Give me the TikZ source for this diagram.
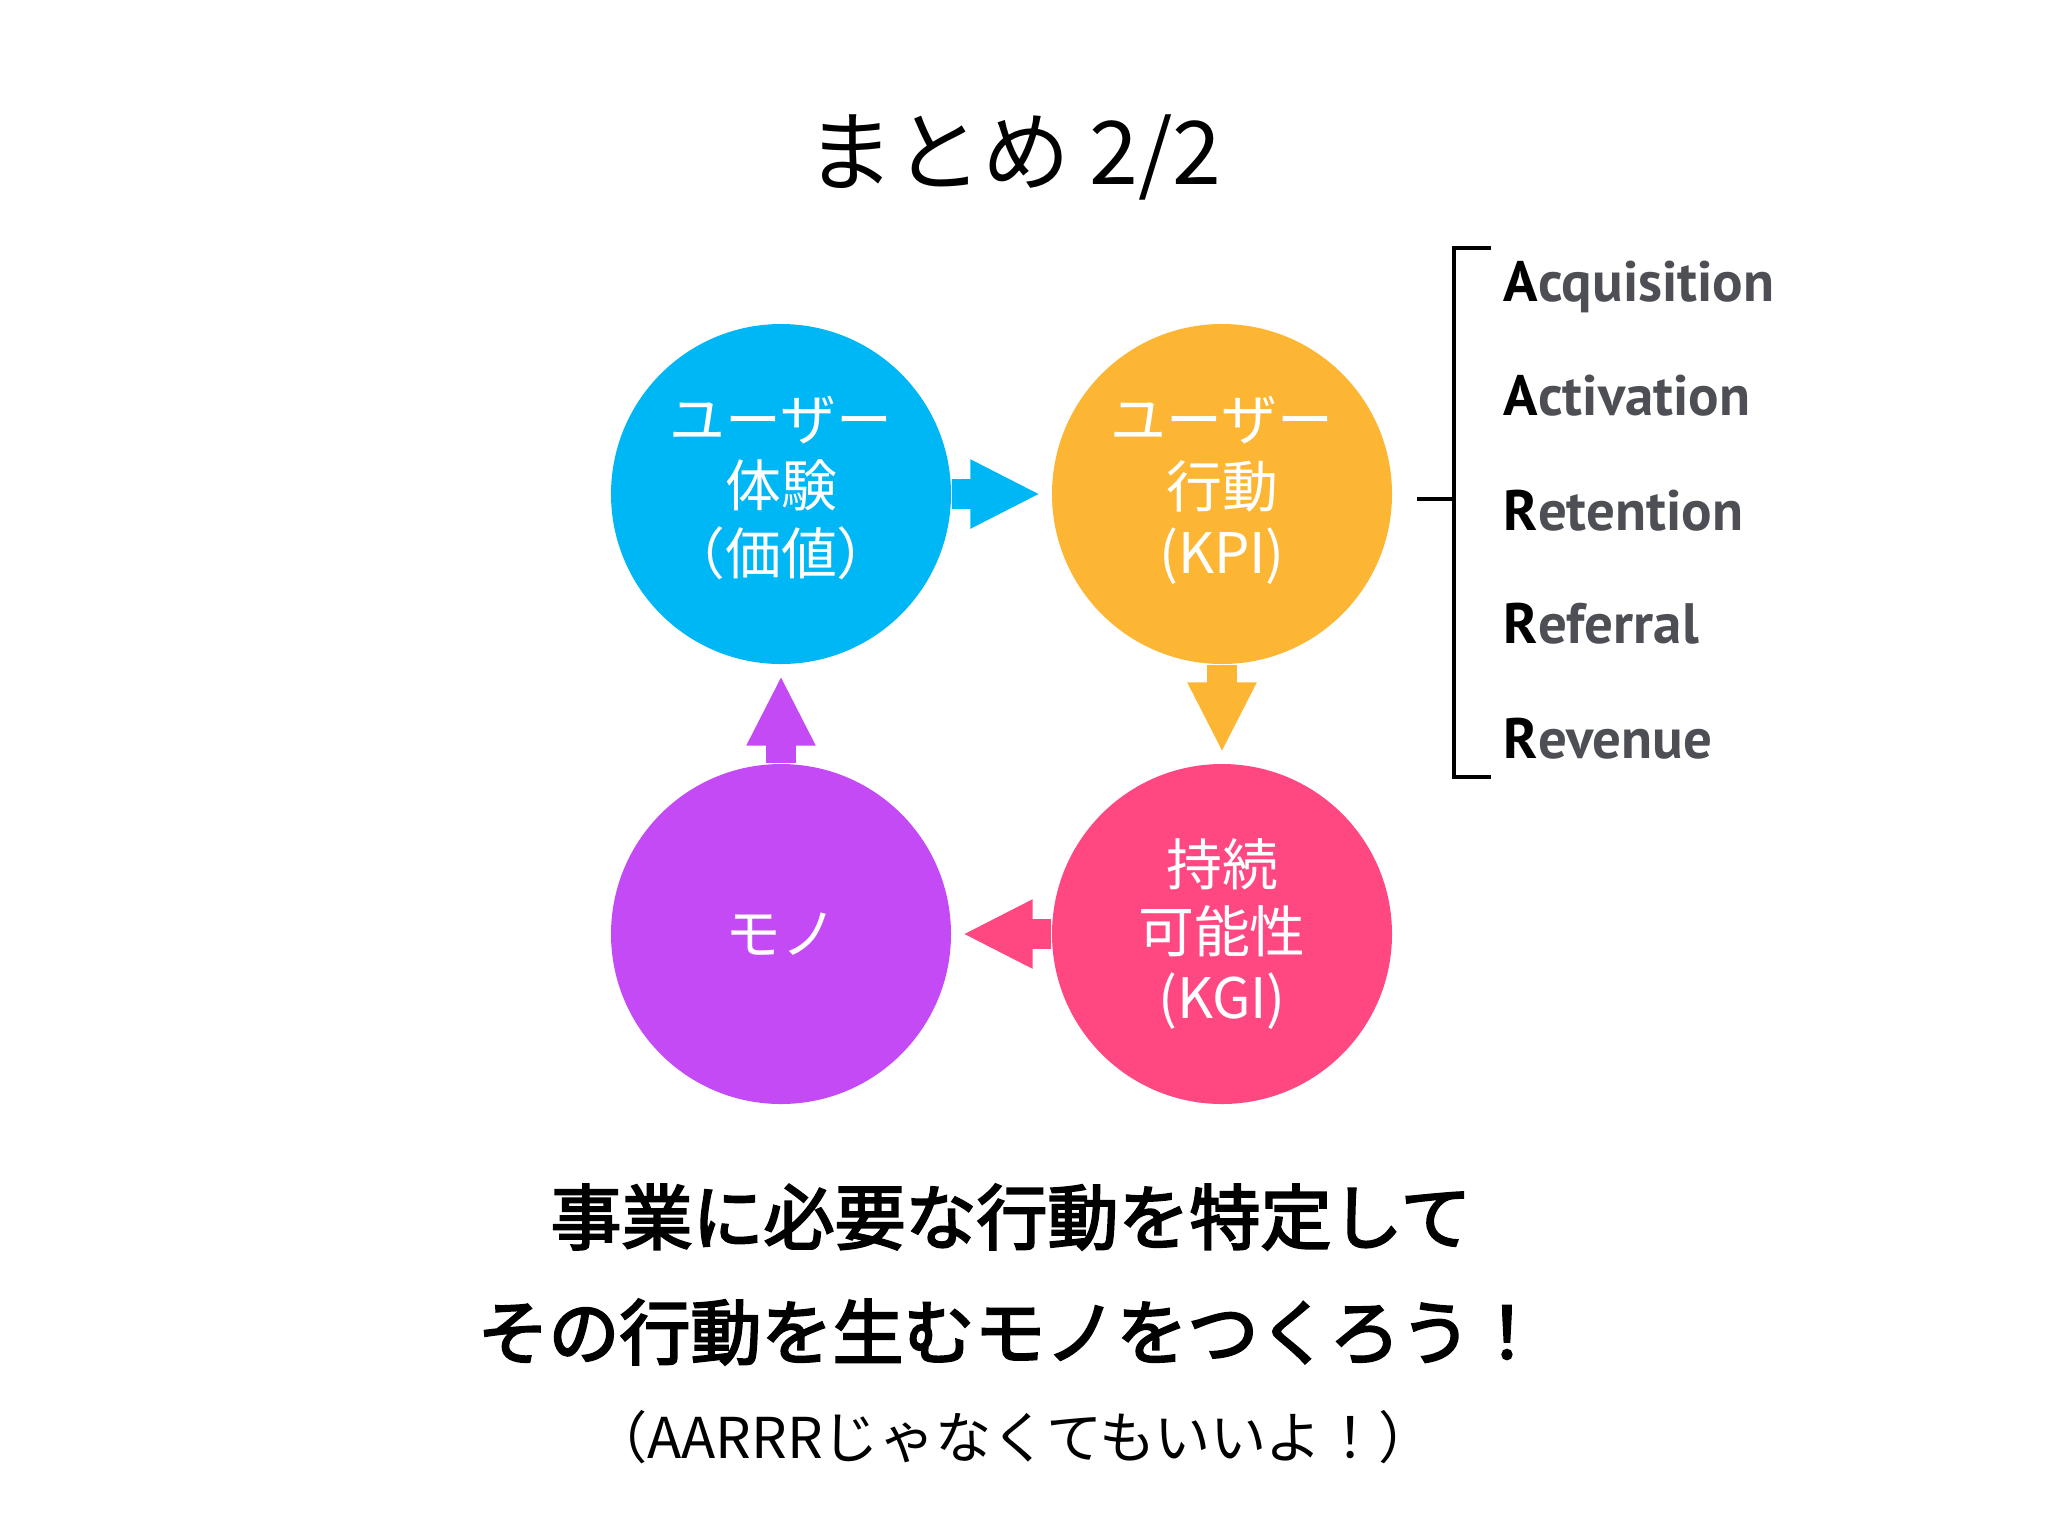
\documentclass[tikz,border=0pt]{standalone}
\usepackage{fontspec}
\newfontfamily\jpfont{Noto Sans CJK JP}
\newfontfamily\jpmedfont[FakeBold=3]{Noto Sans CJK JP}
\newfontfamily\aarrrfont{PT Sans}
\usetikzlibrary{arrows.meta}

\definecolor{uxblue}{RGB}{0,183,245}
\definecolor{kpiorange}{RGB}{252,182,52}
\definecolor{kgipink}{RGB}{255,72,130}
\definecolor{monopurple}{RGB}{196,74,245}
\definecolor{aarrrgray}{RGB}{77,79,85}

\newcommand{\bubbletext}[1]{\raisebox{0.6mm}{\begin{tabular}{@{}c@{}}#1\end{tabular}}}

\begin{document}
\begin{tikzpicture}[x=0.1mm,y=-0.1mm,
  bubble/.style={circle,minimum size=34mm,inner sep=0pt,align=center,text=white,
    font=\jpfont\fontsize{15.9}{18.8}\selectfont},
  flowarrow/.style={line width=3mm,-{Triangle[width=6.4mm,length=7mm]},shorten >=1.1mm},
  aarrr/.style={anchor=base west,text=aarrrgray,inner sep=0pt,
    font=\aarrrfont\bfseries\fontsize{16.2}{19}\selectfont},
  bracketline/.style={line width=0.4mm}]
\useasboundingbox (0,0) rectangle (2048,1536);

% title
\node[font=\jpfont\fontsize{25}{30}\selectfont] (title) at (1014,157) {まとめ 2/2};

% the four circles
\node[bubble,fill=uxblue] (ux) at (781,494) {\bubbletext{ユーザー\\体験\\（価値）}};
\node[bubble,fill=kpiorange] (kpi) at (1222,494) {\bubbletext{ユーザー\\行動\\(KPI)}};
\node[bubble,fill=kgipink] (kgi) at (1222,934) {持続\\可能性\\(KGI)};
\node[bubble,fill=monopurple] (mono) at (781,934) {モノ};

\draw[flowarrow,uxblue] (ux) -- (kpi);
\draw[flowarrow,kpiorange] (kpi) -- (kgi);
\draw[flowarrow,kgipink] (kgi) -- (mono);
\draw[flowarrow,monopurple] (mono) -- (ux);

% AARRR list
\node[aarrr] (acq) at (1503,301) {\textcolor{black}{A}cquisition};
\node[aarrr] (act) at (1503,415) {\textcolor{black}{A}ctivation};
\node[aarrr] (ret) at (1503,530) {\textcolor{black}{R}etention};
\node[aarrr] (ref) at (1503,643) {\textcolor{black}{R}eferral};
\node[aarrr] (rev) at (1503,758) {\textcolor{black}{R}evenue};

\coordinate (brtop) at (1491,248);
\coordinate (brbot) at (1491,777);
\coordinate (brmid) at (1454,499);
\coordinate (brstub) at (1417,499);
\draw[bracketline] (brtop) -- (1454,248) -- (1454,777) -- (brbot);
\draw[bracketline] (brstub) -- (brmid);

% message
\node[font=\jpmedfont\fontsize{20.2}{24}\selectfont] (msga) at (1011,1217) {事業に必要な行動を特定して};
\node[font=\jpmedfont\fontsize{20.2}{24}\selectfont] (msgb) at (1010,1332) {その行動を生むモノをつくろう！};
\node[font=\jpfont\fontsize{16}{19}\selectfont] (msgc) at (1013,1437) {（AARRRじゃなくてもいいよ！）};
\end{tikzpicture}
\end{document}
